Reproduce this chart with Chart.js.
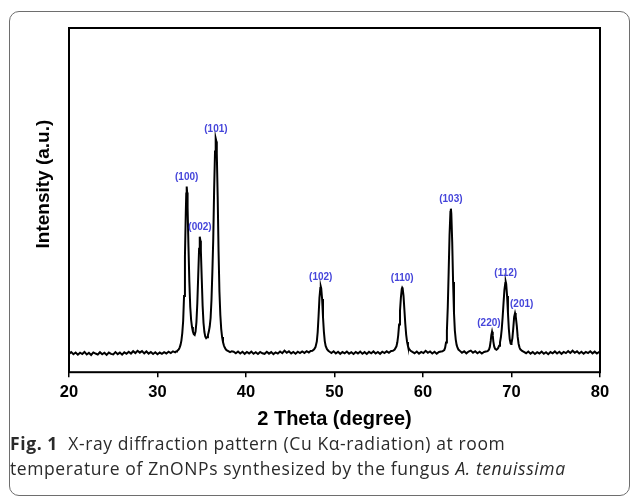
<!DOCTYPE html>
<html>
<head>
<meta charset="utf-8">
<script src="https://cdn.jsdelivr.net/npm/chart.js@4.4.1/dist/chart.umd.min.js"></script>
<style>
  html, body { margin: 0; padding: 0; background: #fff; }
  body { width: 630px; height: 496px; position: relative; overflow: hidden; }
  #frame {
    position: absolute; left: 9px; top: 11px; width: 619px; height: 483px;
    border: 1px solid #6e6e6e; border-radius: 10px;
  }
  #xrd { position: absolute; left: 0; top: 0; }
  #caption {
    position: absolute; left: 10px; top: 431px; width: 615px;
    font-family: "Open Sans", sans-serif; font-size: 17.5px; line-height: 25px;
    letter-spacing: 0.6px; color: #2a2a2a; white-space: nowrap;
  }
</style>
</head>
<body>
<div id="frame"></div>
<canvas id="xrd" width="630" height="440"></canvas>
<div id="caption"><b>Fig. 1</b>&nbsp; X-ray diffraction pattern (Cu Kα-radiation) at room<br>temperature of ZnONPs synthesized by the fungus <i>A. tenuissima</i></div>
<script>
// peak annotations (hkl), label position in 2theta and peak top counts
const hkl = ["(100)", "(002)", "(101)", "(102)", "(110)", "(103)", "(220)", "(112)", "(201)"]
const labelTheta = [33.3, 34.8, 36.6, 48.45, 57.65, 63.15, 67.45, 69.35, 71.15]
const labelCounts = [1850, 1350, 2330, 853, 843, 1630, 403, 900, 590]

const xTicks = [20, 30, 40, 50, 60, 70, 80]

// scan, [2theta, counts]
const scan20to32 = [
  [20.0,182],[20.25,201],[20.5,179],[20.75,196],[21.0,174],[21.25,194],[21.5,181],[21.75,202],
  [22.0,177],[22.25,193],[22.5,172],[22.75,197],[23.0,186],[23.25,176],[23.5,199],[23.75,179],
  [24.0,194],[24.25,173],[24.5,196],[24.75,182],[25.0,177],[25.25,200],[25.5,180],[25.75,195],
  [26.0,175],[26.25,198],[26.5,183],[26.75,203],[27.0,186],[27.25,209],[27.5,191],[27.75,213],
  [28.0,195],[28.25,210],[28.5,188],[28.75,207],[29.0,185],[29.25,202],[29.5,182],[29.75,199],
  [30.0,179],[30.25,196],[30.5,183],[30.75,200],[31.0,187],[31.25,204],[31.5,191],[31.75,208],
  [32.0,198]
]
const scan32to38 = [
  [32.1,206],[32.2,210],[32.3,218],[32.4,228],[32.5,245],[32.6,272],[32.7,315],[32.8,390],[32.9,510],
  [33.0,760],[33.1,1150],[33.2,1600],[33.25,1780],[33.3,1850],[33.35,1790],[33.4,1640],[33.5,1250],
  [33.6,900],[33.7,650],[33.8,520],[33.9,450],[34.0,405],[34.1,380],[34.2,372],[34.3,405],[34.4,500],
  [34.5,690],[34.6,960],[34.7,1230],[34.75,1320],[34.8,1350],[34.85,1310],[34.9,1210],[35.0,930],
  [35.1,660],[35.2,490],[35.3,400],[35.4,355],[35.5,340],[35.6,348],[35.7,370],[35.8,405],[35.9,455],
  [36.0,540],[36.1,720],[36.2,1000],[36.3,1330],[36.4,1820],[36.5,2200],[36.55,2300],[36.6,2330],
  [36.65,2300],[36.7,2180],[36.8,1750],[36.9,1200],[37.0,800],[37.1,570],[37.2,430],[37.3,350],
  [37.4,300],[37.5,268],[37.6,246],[37.7,230],[37.8,220],[38.0,210],[38.2,200],[38.4,209]
]
const scan38to47 = [
  [38.6,205],[38.85,188],[39.1,206],[39.35,186],[39.6,203],[39.85,183],[40.1,201],[40.35,187],
  [40.6,205],[40.85,184],[41.1,199],[41.35,181],[41.6,202],[41.85,188],[42.1,183],[42.35,203],
  [42.6,185],[42.85,200],[43.1,180],[43.35,198],[43.6,186],[43.85,206],[44.1,189],[44.35,215],
  [44.6,193],[44.85,208],[45.1,187],[45.35,202],[45.6,184],[45.85,204],[46.1,190],[46.35,207],
  [46.6,192],[46.85,210],[47.1,197],[47.3,212]
]
const scan47to50 = [
  [47.5,214],[47.7,228],[47.85,250],[48.0,305],[48.1,400],[48.2,560],[48.3,740],[48.4,840],[48.45,853],
  [48.5,835],[48.6,730],[48.7,550],[48.8,405],[48.9,310],[49.0,262],[49.15,230],[49.3,214],[49.45,204]
]
const scan50to56 = [
  [49.65,192],[49.9,209],[50.15,187],[50.4,204],[50.65,183],[50.9,201],[51.15,188],[51.4,206],
  [51.65,185],[51.9,199],[52.15,181],[52.4,202],[52.65,187],[52.9,205],[53.15,184],[53.4,200],
  [53.65,182],[53.9,203],[54.15,189],[54.4,207],[54.65,186],[54.9,201],[55.15,183],[55.4,204],
  [55.65,190],[55.9,208],[56.15,194],[56.4,211]
]
const scan56to59 = [
  [56.6,214],[56.8,226],[57.0,258],[57.1,298],[57.2,368],[57.3,475],[57.4,610],[57.5,740],[57.6,830],
  [57.65,843],[57.7,835],[57.8,760],[57.9,620],[58.0,480],[58.1,372],[58.2,302],[58.3,260],[58.4,236],
  [58.6,213],[58.8,202]
]
const scan59to62 = [
  [59.05,189],[59.3,206],[59.55,185],[59.8,202],[60.05,191],[60.3,213],[60.55,193],[60.8,207],
  [61.05,187],[61.3,204],[61.55,184],[61.8,202],[62.05,207]
]
const scan62to64 = [
  [62.2,208],[62.4,220],[62.5,244],[62.6,296],[62.7,410],[62.8,650],[62.9,1000],[63.0,1370],[63.1,1600],
  [63.15,1630],[63.2,1580],[63.3,1300],[63.4,900],[63.5,595],[63.6,415],[63.7,325],[63.8,272],[63.9,244],
  [64.0,226],[64.2,210]
]
const scan64to67 = [
  [64.4,193],[64.65,208],[64.9,188],[65.15,206],[65.4,215],[65.65,195],[65.9,209],[66.15,189],
  [66.4,204],[66.65,186],[66.9,201],[67.1,206]
]
const scan67to72 = [
  [67.3,210],[67.45,224],[67.55,252],[67.65,312],[67.72,370],[67.8,403],[67.88,368],[67.95,305],
  [68.05,255],[68.15,232],[68.3,224],[68.4,230],[68.5,242],[68.6,264],[68.7,298],[68.8,348],[68.9,432],
  [69.0,550],[69.1,690],[69.2,820],[69.3,890],[69.35,900],[69.4,880],[69.5,760],[69.6,590],[69.7,430],
  [69.8,330],[69.9,285],[69.95,280],[70.0,290],[70.1,340],[70.2,440],[70.3,550],[70.4,588],[70.45,590],
  [70.5,560],[70.6,460],[70.7,352],[70.8,284],[70.9,248],[71.0,228],[71.2,212],[71.4,202]
]
const scan72to80 = [
  [71.65,189],[71.9,206],[72.15,185],[72.4,202],[72.65,182],[72.9,200],[73.15,187],[73.4,205],
  [73.65,184],[73.9,199],[74.15,180],[74.4,201],[74.65,188],[74.9,207],[75.15,186],[75.4,203],
  [75.65,183],[75.9,202],[76.15,190],[76.4,210],[76.65,192],[76.9,214],[77.15,194],[77.4,208],
  [77.65,187],[77.9,204],[78.15,185],[78.4,202],[78.65,190],[78.9,208],[79.15,188],[79.4,205],
  [79.65,186],[79.9,201],[80.0,194]
]

const scan = [].concat(scan20to32, scan32to38, scan38to47, scan47to50, scan50to56,
  scan56to59, scan59to62, scan62to64, scan64to67, scan67to72, scan72to80)

const axisFont = '"Liberation Sans", Arial, sans-serif'

// box round the plot, hkl labels, rotated y title
const decorations = {
  id: "decorations",
  afterDatasetsDraw(chart) {
    let ctx = chart.ctx
    let a = chart.chartArea
    let x = chart.scales.x
    let y = chart.scales.y
    ctx.save()
    ctx.strokeStyle = "#000"
    ctx.lineWidth = 2
    ctx.strokeRect(a.left, a.top, a.right - a.left, a.bottom - a.top)

    ctx.fillStyle = "#4545da"
    ctx.font = "bold 10px " + axisFont
    ctx.textAlign = "center"
    ctx.textBaseline = "middle"
    hkl.forEach((label, i) => {
      ctx.fillText(label, x.getPixelForValue(labelTheta[i]), y.getPixelForValue(labelCounts[i]) - 9)
    })

    ctx.translate(a.left - 25, (a.top + a.bottom) / 2 - 16)
    ctx.rotate(-Math.PI / 2)
    ctx.fillStyle = "#000"
    ctx.font = "bold 19px " + axisFont
    ctx.fillText("Intensity (a.u.)", 0, 0)
    ctx.restore()
  }
}

let chart = new Chart(document.getElementById("xrd"), {
  type: "line",
  data: {
    datasets: [{
      data: scan.map(p => ({ x: p[0], y: p[1] })),
      borderColor: "#000",
      borderWidth: 2,
      pointRadius: 0,
      tension: 0,
      fill: false
    }]
  },
  options: {
    responsive: false,
    animation: false,
    devicePixelRatio: 1,
    layout: { padding: { left: 69, right: 30, top: 28, bottom: 9 } },
    plugins: { legend: { display: false }, tooltip: { enabled: false } },
    scales: {
      x: {
        type: "linear",
        min: 20,
        max: 80,
        afterBuildTicks: scale => { scale.ticks = xTicks.map(v => ({ value: v })) },
        border: { display: false },
        grid: { drawOnChartArea: false, drawTicks: true, tickLength: 5, color: "#000", lineWidth: 1.5 },
        ticks: { color: "#000", padding: 5, font: { family: axisFont, size: 16.5, weight: "bold" } },
        title: {
          display: true,
          text: "2 Theta (degree)",
          color: "#000",
          padding: { top: 0, bottom: 0 },
          font: { family: axisFont, size: 20, weight: "bold" }
        }
      },
      y: { display: false, min: 0, max: 3430 }
    }
  },
  plugins: [decorations]
})
</script>
</body>
</html>
